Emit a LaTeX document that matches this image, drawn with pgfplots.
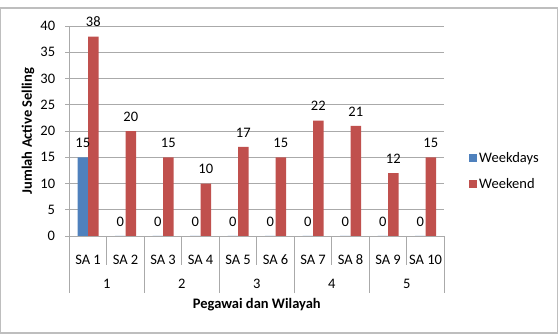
\documentclass[border=0pt]{standalone}
\usepackage{fontspec}
\setmainfont{Carlito}
\usepackage{pgfplots}
\pgfplotsset{compat=1.18}
\definecolor{wdblue}{RGB}{79,129,189}
\definecolor{wered}{RGB}{192,80,77}
\definecolor{gridc}{RGB}{170,170,170}
\definecolor{framec}{RGB}{190,190,190}
\begin{document}
\begin{tikzpicture}[font=\fontsize{14.5}{17}\selectfont]
\useasboundingbox (0pt,0pt) rectangle (558pt,335pt);
\draw[framec, line width=1.2pt] (0.6pt,2pt) rectangle (557.4pt,327pt);
\begin{axis}[
  at={(69.3pt,99pt)}, anchor=south west, scale only axis,
  width=375pt, height=210pt,
  xmin=0.5, xmax=10.5, ymin=0, ymax=40,
  ytick={0,5,...,40},
  xtick={1,...,10},
  xticklabels={SA 1,SA 2,SA 3,SA 4,SA 5,SA 6,SA 7,SA 8,SA 9,SA 10},
  axis x line*=bottom, axis y line*=left,
  axis line style={draw=gridc, line width=0.8pt},
  ymajorgrids, grid style={draw=gridc, line width=0.8pt},
  xtick style={draw=none},
  ytick style={draw=gridc, line width=0.8pt},
  major tick length=4pt, tick align=outside,
  xticklabel style={anchor=center, yshift=-20pt},
  yticklabel style={inner sep=0pt, xshift=-10pt},
  /pgf/number format/assume math mode=true,
  ybar=0pt, bar width=10.5pt,
  nodes near coords,
  every node near coord/.append style={text=black, yshift=6pt},
  clip=false,
  legend style={draw=none, fill=none, at={(rel axis cs:1.066,0.41)}, anchor=north west, row sep=11pt, inner sep=0pt, nodes={inner sep=2pt}},
  legend cell align=left,
  legend image code/.code={\fill[#1] (0pt,-4pt) rectangle (8pt,4pt);},
]
\addplot[fill=wdblue, draw=none] coordinates {(1,15) (2,0) (3,0) (4,0) (5,0) (6,0) (7,0) (8,0) (9,0) (10,0)};
\addplot[fill=wered, draw=none] coordinates {(1,38) (2,20) (3,15) (4,10) (5,17) (6,15) (7,22) (8,21) (9,12) (10,15)};
\legend{Weekdays, Weekend}
\pgfplotsinvokeforeach{1.5,3.5,5.5,7.5,9.5}{\draw[gridc, line width=0.8pt] (axis cs:#1,0) -- ++(0pt,-29pt);}
\pgfplotsinvokeforeach{0.5,2.5,4.5,6.5,8.5,10.5}{\draw[gridc, line width=0.8pt] (axis cs:#1,0) -- ++(0pt,-57pt);}
\node at ([yshift=-48pt]axis cs:1.5,0) {1};
\node at ([yshift=-48pt]axis cs:3.5,0) {2};
\node at ([yshift=-48pt]axis cs:5.5,0) {3};
\node at ([yshift=-48pt]axis cs:7.5,0) {4};
\node at ([yshift=-48pt]axis cs:9.5,0) {5};
\node[font=\fontsize{14.5}{17}\selectfont\bfseries] at ([yshift=-69pt]axis cs:5.5,0) {Pegawai dan Wilayah};
\end{axis}
\node[rotate=90, font=\fontsize{14.5}{17}\selectfont\bfseries] at (28pt,204pt) {Jumlah Active Selling};
\end{tikzpicture}
\end{document}
